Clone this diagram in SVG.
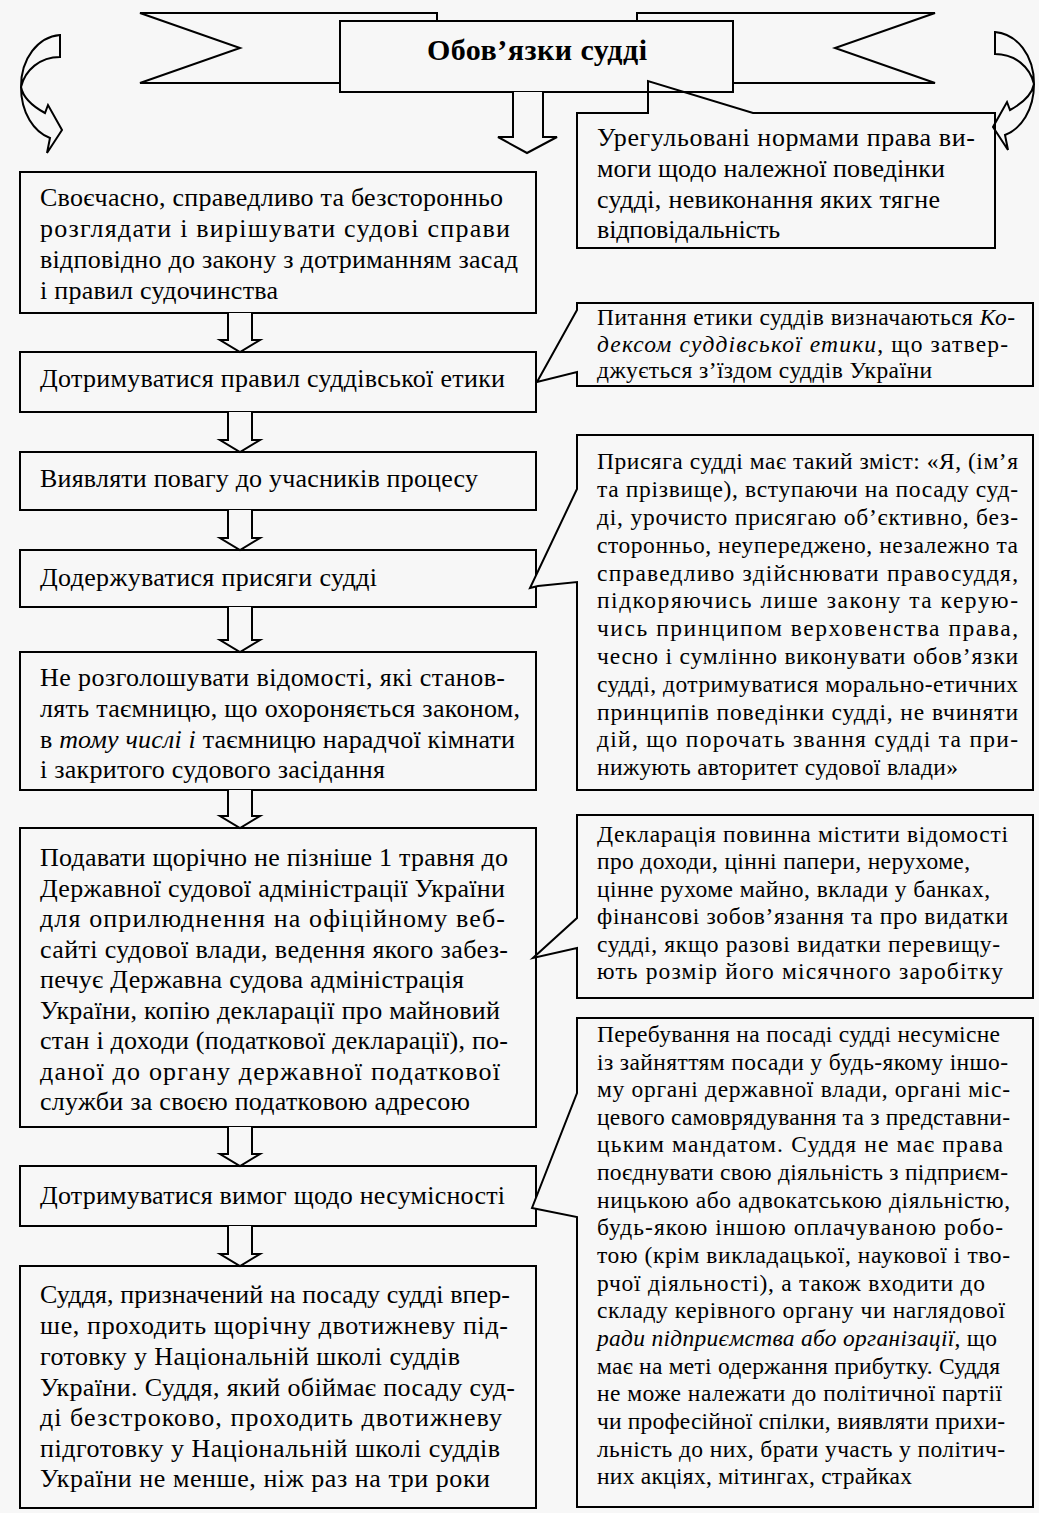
<svg xmlns="http://www.w3.org/2000/svg" width="1039" height="1513" viewBox="0 0 1039 1513">
<style>
.ln{fill:none;stroke:#000;stroke-width:2;stroke-linejoin:miter}
.bx{fill:#f7f7f7;stroke:#000;stroke-width:2}
.t{font-family:"Liberation Serif","Times New Roman",serif;font-size:26px;fill:#000}
.s{font-family:"Liberation Serif","Times New Roman",serif;font-size:23.5px;fill:#000}
.ttl{font-family:"Liberation Serif","Times New Roman",serif;font-size:30px;font-weight:bold;fill:#000}
</style>
<defs>
<path id="curv" d="M60,35 C38,37 21,58 21,87 C21,113 34,132 50,138 L47,153 L62,130 L48,105 L45,113 C32,106 23,97 21,87 C25,70 40,57 60,57 Z"/>
</defs>
<rect x="0" y="0" width="1039" height="1513" fill="#f7f7f7"/>

<g id="banner">
<path class="bx" d="M140,13 H437 V21 H340 V83 H140 L240,48 Z"/>
<path class="bx" d="M935,13 H637 V21 H733 V83 H935 L835,48 Z"/>
<rect class="bx" x="340" y="21" width="393" height="71"/>
<text class="ttl" x="537" y="60" text-anchor="middle" textLength="220" lengthAdjust="spacing">Обов’язки судді</text>
</g>

<g id="curved-arrows">
<use href="#curv" class="bx"/>
<use href="#curv" class="bx" transform="translate(1055,-3) scale(-1,1)"/>
</g>

<g id="box1">
<rect class="bx" x="20" y="172" width="516" height="141"/>
<text class="t" x="40" y="206" textLength="463" lengthAdjust="spacing">Своєчасно, справедливо та безсторонньо</text>
<text class="t" x="40" y="237" textLength="470" lengthAdjust="spacing">розглядати і вирішувати судові справи</text>
<text class="t" x="40" y="268" textLength="478" lengthAdjust="spacing">відповідно до закону з дотриманням засад</text>
<text class="t" x="40" y="299" textLength="238" lengthAdjust="spacing">і правил судочинства</text>
</g>
<g id="box2">
<rect class="bx" x="20" y="352" width="516" height="60"/>
<text class="t" x="40" y="387" textLength="465" lengthAdjust="spacing">Дотримуватися правил суддівської етики</text>
</g>
<g id="box3">
<rect class="bx" x="20" y="452" width="516" height="58"/>
<text class="t" x="40" y="487" textLength="438" lengthAdjust="spacing">Виявляти повагу до учасників процесу</text>
</g>
<g id="box4">
<rect class="bx" x="20" y="550" width="516" height="57"/>
<text class="t" x="40" y="586" textLength="337" lengthAdjust="spacing">Додержуватися присяги судді</text>
</g>
<g id="box5">
<rect class="bx" x="20" y="652" width="516" height="138"/>
<text class="t" x="40" y="686" textLength="465" lengthAdjust="spacing">Не розголошувати відомості, які станов-</text>
<text class="t" x="40" y="717" textLength="480" lengthAdjust="spacing">лять таємницю, що охороняється законом,</text>
<text class="t" x="40" y="748" textLength="475" lengthAdjust="spacing">в <tspan font-style="italic">тому числі і</tspan> таємницю нарадчої кімнати</text>
<text class="t" x="40" y="778" textLength="345" lengthAdjust="spacing">і закритого судового засідання</text>
</g>
<g id="box6">
<rect class="bx" x="20" y="828" width="516" height="299"/>
<text class="t" x="40" y="866" textLength="468" lengthAdjust="spacing">Подавати щорічно не пізніше 1 травня до</text>
<text class="t" x="40" y="897" textLength="465" lengthAdjust="spacing">Державної судової адміністрації України</text>
<text class="t" x="40" y="927" textLength="465" lengthAdjust="spacing">для оприлюднення на офіційному веб-</text>
<text class="t" x="40" y="958" textLength="468" lengthAdjust="spacing">сайті судової влади, ведення якого забез-</text>
<text class="t" x="40" y="988" textLength="424" lengthAdjust="spacing">печує Державна судова адміністрація</text>
<text class="t" x="40" y="1019" textLength="460" lengthAdjust="spacing">України, копію декларації про майновий</text>
<text class="t" x="40" y="1049" textLength="468" lengthAdjust="spacing">стан і доходи (податкової декларації), по-</text>
<text class="t" x="40" y="1080" textLength="460" lengthAdjust="spacing">даної до органу державної податкової</text>
<text class="t" x="40" y="1110" textLength="430" lengthAdjust="spacing">служби за своєю податковою адресою</text>
</g>
<g id="box7">
<rect class="bx" x="20" y="1166" width="516" height="60"/>
<text class="t" x="40" y="1204" textLength="465" lengthAdjust="spacing">Дотримуватися вимог щодо несумісності</text>
</g>
<g id="box8">
<rect class="bx" x="20" y="1266" width="516" height="242"/>
<text class="t" x="40" y="1303" textLength="470" lengthAdjust="spacing">Суддя, призначений на посаду судді впер-</text>
<text class="t" x="40" y="1334" textLength="468" lengthAdjust="spacing">ше, проходить щорічну двотижневу під-</text>
<text class="t" x="40" y="1365" textLength="420" lengthAdjust="spacing">готовку у Національній школі суддів</text>
<text class="t" x="40" y="1396" textLength="475" lengthAdjust="spacing">України. Суддя, який обіймає посаду суд-</text>
<text class="t" x="40" y="1426" textLength="462" lengthAdjust="spacing">ді безстроково, проходить двотижневу</text>
<text class="t" x="40" y="1457" textLength="460" lengthAdjust="spacing">підготовку у Національній школі суддів</text>
<text class="t" x="40" y="1487" textLength="450" lengthAdjust="spacing">України не менше, ніж раз на три роки</text>
</g>

<g id="connectors">
<path class="bx" d="M513,92 V137 H498 L527,153 L557,137 H543 V92"/>
<path class="bx" d="M228,313 V340 H220 L240,352 L260,340 H252 V313"/>
<path class="bx" d="M228,412 V440 H220 L240,452 L260,440 H252 V412"/>
<path class="bx" d="M228,510 V538 H220 L240,550 L260,538 H252 V510"/>
<path class="bx" d="M228,607 V640 H220 L240,652 L260,640 H252 V607"/>
<path class="bx" d="M228,790 V816 H220 L240,828 L260,816 H252 V790"/>
<path class="bx" d="M228,1127 V1154 H220 L240,1166 L260,1154 H252 V1127"/>
<path class="bx" d="M228,1226 V1254 H220 L240,1266 L260,1254 H252 V1226"/>
</g>

<g id="callout1">
<path class="ln" d="M577,113 H648 V81 L753,113 H995 V248 H577 Z"/>
<text class="t" x="597" y="146" textLength="378" lengthAdjust="spacing">Урегульовані нормами права ви-</text>
<text class="t" x="597" y="177" textLength="348" lengthAdjust="spacing">моги щодо належної поведінки</text>
<text class="t" x="597" y="208" textLength="343" lengthAdjust="spacing">судді, невиконання яких тягне</text>
<text class="t" x="597" y="238" textLength="183" lengthAdjust="spacing">відповідальність</text>
</g>
<g id="callout2">
<path class="bx" d="M577,303 H1033 V386 H577 V372 L537,382 L577,310 Z"/>
<text class="s" x="597" y="325" textLength="418" lengthAdjust="spacing">Питання етики суддів визначаються <tspan font-style="italic">Ко-</tspan></text>
<text class="s" x="597" y="352" textLength="411" lengthAdjust="spacing"><tspan font-style="italic">дексом суддівської етики</tspan>, що затвер-</text>
<text class="s" x="597" y="378" textLength="335" lengthAdjust="spacing">джується з’їздом суддів України</text>
</g>
<g id="callout3">
<path class="bx" d="M577,435 H1033 V790 H577 V582 L538,586 L530,588 L577,489 Z"/>
<text class="s" x="597" y="469" textLength="421" lengthAdjust="spacing">Присяга судді має такий зміст: «Я, (ім’я</text>
<text class="s" x="597" y="497" textLength="421" lengthAdjust="spacing">та прізвище), вступаючи на посаду суд-</text>
<text class="s" x="597" y="525" textLength="421" lengthAdjust="spacing">ді, урочисто присягаю об’єктивно, без-</text>
<text class="s" x="597" y="553" textLength="421" lengthAdjust="spacing">сторонньо, неупереджено, незалежно та</text>
<text class="s" x="597" y="581" textLength="421" lengthAdjust="spacing">справедливо здійснювати правосуддя,</text>
<text class="s" x="597" y="608" textLength="421" lengthAdjust="spacing">підкоряючись лише закону та керую-</text>
<text class="s" x="597" y="636" textLength="421" lengthAdjust="spacing">чись принципом верховенства права,</text>
<text class="s" x="597" y="664" textLength="421" lengthAdjust="spacing">чесно і сумлінно виконувати обов’язки</text>
<text class="s" x="597" y="692" textLength="421" lengthAdjust="spacing">судді, дотримуватися морально-етичних</text>
<text class="s" x="597" y="720" textLength="421" lengthAdjust="spacing">принципів поведінки судді, не вчиняти</text>
<text class="s" x="597" y="747" textLength="421" lengthAdjust="spacing">дій, що порочать звання судді та при-</text>
<text class="s" x="597" y="775" textLength="361" lengthAdjust="spacing">нижують авторитет судової влади»</text>
</g>
<g id="callout4">
<path class="bx" d="M577,815 H1033 V998 H577 V948 L533,958 L577,918 Z"/>
<text class="s" x="597" y="842" textLength="411" lengthAdjust="spacing">Декларація повинна містити відомості</text>
<text class="s" x="597" y="869" textLength="373" lengthAdjust="spacing">про доходи, цінні папери, нерухоме,</text>
<text class="s" x="597" y="897" textLength="393" lengthAdjust="spacing">цінне рухоме майно, вклади у банках,</text>
<text class="s" x="597" y="924" textLength="411" lengthAdjust="spacing">фінансові зобов’язання та про видатки</text>
<text class="s" x="597" y="952" textLength="403" lengthAdjust="spacing">судді, якщо разові видатки перевищу-</text>
<text class="s" x="597" y="979" textLength="406" lengthAdjust="spacing">ють розмір його місячного заробітку</text>
</g>
<g id="callout5">
<path class="bx" d="M577,1018 H1033 V1507 H577 V1217 L532,1208 L577,1093 Z"/>
<text class="s" x="597" y="1042" textLength="403" lengthAdjust="spacing">Перебування на посаді судді несумісне</text>
<text class="s" x="597" y="1070" textLength="411" lengthAdjust="spacing">із зайняттям посади у будь-якому іншо-</text>
<text class="s" x="597" y="1097" textLength="413" lengthAdjust="spacing">му органі державної влади, органі міс-</text>
<text class="s" x="597" y="1125" textLength="413" lengthAdjust="spacing">цевого самоврядування та з представни-</text>
<text class="s" x="597" y="1152" textLength="406" lengthAdjust="spacing">цьким мандатом. Суддя не має права</text>
<text class="s" x="597" y="1180" textLength="411" lengthAdjust="spacing">поєднувати свою діяльність з підприєм-</text>
<text class="s" x="597" y="1208" textLength="413" lengthAdjust="spacing">ницькою або адвокатською діяльністю,</text>
<text class="s" x="597" y="1235" textLength="406" lengthAdjust="spacing">будь-якою іншою оплачуваною робо-</text>
<text class="s" x="597" y="1263" textLength="413" lengthAdjust="spacing">тою (крім викладацької, наукової і тво-</text>
<text class="s" x="597" y="1291" textLength="388" lengthAdjust="spacing">рчої діяльності), а також входити до</text>
<text class="s" x="597" y="1318" textLength="408" lengthAdjust="spacing">складу керівного органу чи наглядової</text>
<text class="s" x="597" y="1346" textLength="400" lengthAdjust="spacing"><tspan font-style="italic">ради підприємства або організації</tspan>, що</text>
<text class="s" x="597" y="1374" textLength="403" lengthAdjust="spacing">має на меті одержання прибутку. Суддя</text>
<text class="s" x="597" y="1401" textLength="405" lengthAdjust="spacing">не може належати до політичної партії</text>
<text class="s" x="597" y="1429" textLength="408" lengthAdjust="spacing">чи професійної спілки, виявляти прихи-</text>
<text class="s" x="597" y="1457" textLength="408" lengthAdjust="spacing">льність до них, брати участь у політич-</text>
<text class="s" x="597" y="1484" textLength="315" lengthAdjust="spacing">них акціях, мітингах, страйках</text>
</g>
</svg>
